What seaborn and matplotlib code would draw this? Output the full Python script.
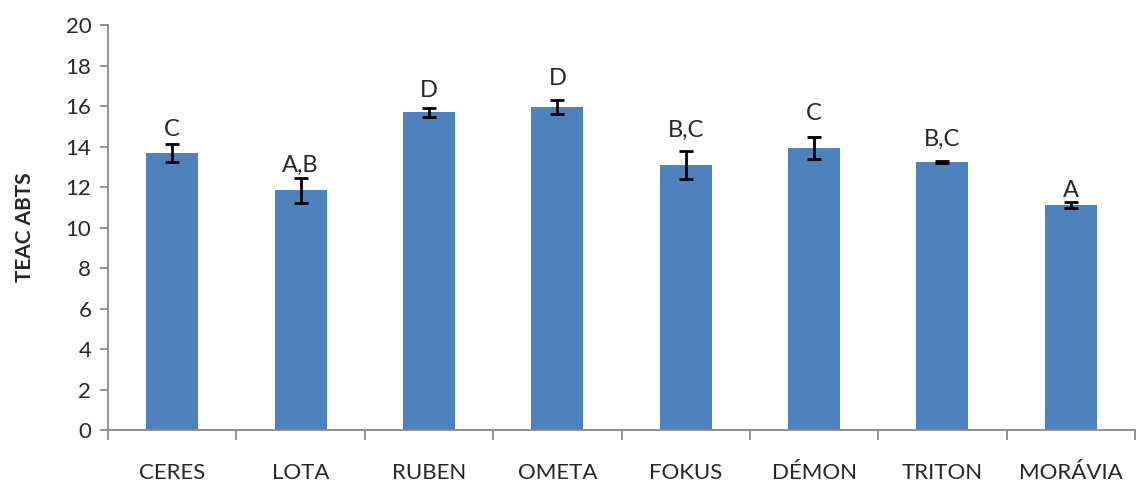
import seaborn as sns
import pandas as pd
import matplotlib.pyplot as plt
import numpy as np

cultivars = ['CERES', 'LOTA', 'RUBEN', 'OMETA', 'FOKUS', 'DÉMON', 'TRITON', 'MORÁVIA']
teac = [13.68, 11.85, 15.70, 15.95, 13.09, 13.93, 13.23, 11.11]
sd = [0.42, 0.62, 0.22, 0.34, 0.70, 0.56, 0.06, 0.14]
groups = ['C', 'A,B', 'D', 'D', 'B,C', 'C', 'B,C', 'A']

# hand placed letters in the original, offset above error bar top (points)
label_pad = [3, 1, 5, 8, 7, 9, 8, 1]

sns.set_style('white')
plt.rcParams['font.family'] = ['Lato', 'DejaVu Sans']

df = pd.DataFrame({'cultivar': cultivars, 'teac': teac})

fig = plt.figure(figsize=(11.36, 4.83), dpi=100)
ax = fig.add_axes([0.0951, 0.1097, 0.9040, 0.8385])

sns.barplot(data=df, x='cultivar', y='teac', color='#4F81BD', saturation=1,
            width=0.405, linewidth=0, ax=ax)
x = np.arange(len(cultivars))
ax.errorbar(x, teac, yerr=sd, fmt='none', ecolor='black', elinewidth=2,
            capsize=5, capthick=2)

for i in range(len(cultivars)):
    ax.annotate(groups[i], (x[i], teac[i] + sd[i]), xytext=(0, label_pad[i]),
                textcoords='offset points', ha='center', va='bottom', fontsize=17)

ax.set_xlim(-0.5, len(cultivars) - 0.5)
ax.set_ylim(0, 20)
ax.set_yticks(range(0, 21, 2))
ax.set_ylabel('TEAC ABTS', fontsize=15, fontweight='bold', labelpad=22)
ax.set_xlabel('')

for side in ['top', 'right']:
    ax.spines[side].set_visible(False)
for side in ['left', 'bottom']:
    ax.spines[side].set_color('#888888')
    ax.spines[side].set_linewidth(1.3)

ax.tick_params(axis='y', length=6, width=1.3, color='#888888', direction='out',
               labelsize=16, pad=6, left=True)
ax.tick_params(axis='x', which='major', length=0, labelsize=16, pad=24)
ax.set_xticks(np.arange(-0.5, len(cultivars), 1), minor=True)
ax.tick_params(axis='x', which='minor', length=7, width=1.3, color='#888888',
               direction='out', bottom=True)

fig.savefig('out.png', dpi=100)
